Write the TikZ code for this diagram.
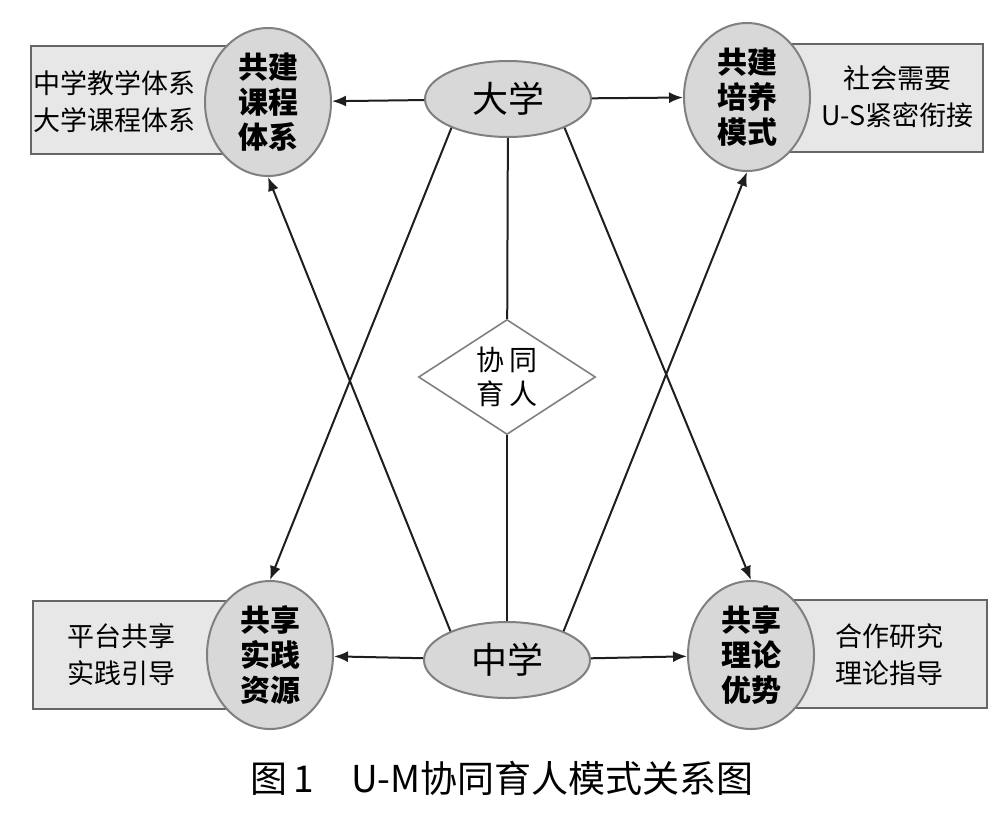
\documentclass[tikz,border=0pt]{standalone}
\usepackage{fontspec}
\setmainfont{Noto Sans CJK SC}
\usepackage{tikz}
\usetikzlibrary{arrows.meta,positioning,shapes.geometric}
\definecolor{umellipse}{RGB}{216,216,216}
\definecolor{umbox}{RGB}{231,231,231}
\definecolor{umedge}{RGB}{128,128,128}
\definecolor{umline}{RGB}{30,30,30}

\begin{document}
\begin{tikzpicture}[x=0.5pt, y=-0.5pt,
  hub/.style={ellipse, draw=umedge, fill=umellipse, line width=1pt,
              minimum width=83pt, minimum height=38pt, inner sep=0pt,
              font=\fontsize{18pt}{20pt}\selectfont},
  goal/.style={ellipse, draw=umedge, fill=umellipse, line width=1pt,
               minimum width=63pt, minimum height=74pt, inner sep=0pt,
               align=center, font=\bfseries\fontsize{15pt}{17.5pt}\selectfont},
  sidebox/.style={draw=umedge!80!black, fill=umbox, line width=1pt,
                  minimum width=118pt, minimum height=54pt},
  note/.style={inner sep=0pt, align=center, font=\fontsize{13.5pt}{18.5pt}\selectfont},
  arr/.style={-{Latex[length=7pt,width=5.5pt]}, line width=1pt, draw=umline}]

\useasboundingbox (0,0) rectangle (1000,825);

% boxes behind the four ellipses
\node[sidebox] (kcbox) at (149,100) {};
\node[sidebox] (pybox) at (865,98)  {};
\node[sidebox] (sjbox) at (151,655) {};
\node[sidebox] (llbox) at (869,654) {};

\node[hub] (dx) at (508,99)  {大学};
\node[hub] (zx) at (507,660) {中学};

\node[goal] (kc) at (268,102) {共建\\课程\\体系};
\node[goal] (py) at (747,97)  {共建\\培养\\模式};
\node[goal] (sj) at (270,655) {共享\\实践\\资源};
\node[goal] (ll) at (751,655) {共享\\理论\\优势};

\node[note, left=4pt of kc.west]   (kctext) {中学教学体系\\大学课程体系};
\node[note, right=5pt of py.east]  (pytext) {社会需要\\U-S紧密衔接};
\node[note, left=15pt of sj.west]  (sjtext) {平台共享\\实践引导};
\node[note, right=10pt of ll.east] (lltext) {合作研究\\理论指导};

\node[diamond, draw=umedge, line width=0.8pt, aspect=1.54,
      minimum width=88.5pt, minimum height=57.5pt, inner sep=0pt,
      align=center, font=\fontsize{14pt}{17pt}\selectfont] (xt) at (507,377) {协\,同\\育\,人};

\draw[line width=1pt, umline] (dx) -- (xt);
\draw[line width=1pt, umline] (xt) -- (zx);

\draw[arr] (dx) -- (kc);
\draw[arr] (dx) -- (py);
\draw[arr] (zx) -- (sj);
\draw[arr] (zx) -- (ll);

\draw[arr] (dx.207) -- (sj.north);
\draw[arr] (dx.333) -- (ll.north);
\draw[arr] (zx.153) -- (kc.south);
\draw[arr] (zx.27)  -- (py.south);

\node[font=\fontsize{18.5pt}{20pt}\selectfont] (cap) at (502,778) {图\,1\quad U-M协同育人模式关系图};
\end{tikzpicture}
\end{document}
